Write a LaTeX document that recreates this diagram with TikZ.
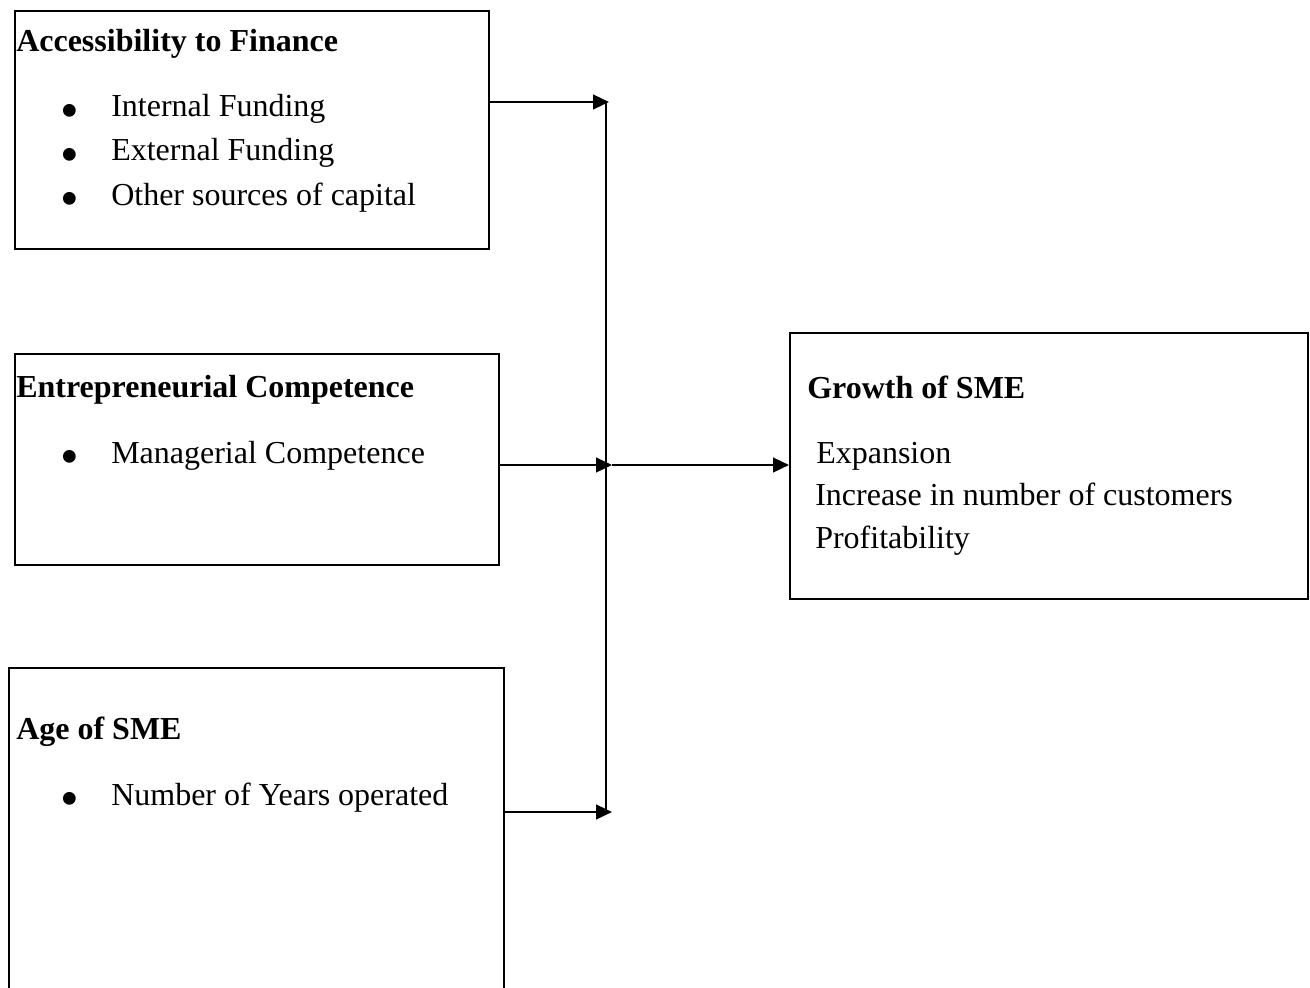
\documentclass[tikz,border=0pt]{standalone}
\usepackage{fontspec}
\setmainfont{Liberation Serif}
\usetikzlibrary{arrows.meta}
\newcommand{\bulletmark}{\smash{•}}
\begin{document}
\begin{tikzpicture}[x=0.75pt,y=-0.75pt,
  box/.style={draw=black,line width=1.6pt,anchor=north west,inner sep=0pt},
  txt/.style={anchor=base west,inner sep=0pt,font=\fontsize{24}{33}\selectfont},
  ttl/.style={txt,font=\fontsize{24}{33}\selectfont\bfseries},
  bul/.style={anchor=base,inner sep=0pt,font=\fontsize{40}{40}\selectfont},
  conn/.style={line width=1.8pt,-{Triangle[length=12pt,width=11pt]}},
  spine/.style={line width=0.8pt}]
\useasboundingbox (0,0) rectangle (1310,988);
\clip (0,0) rectangle (1310,988);
% boxes
\node[box,minimum width=474*0.75pt,minimum height=238*0.75pt] (b1) at (14,10) {};
\node[box,minimum width=484*0.75pt,minimum height=211*0.75pt] (b2) at (14,353) {};
\node[box,minimum width=495*0.75pt,minimum height=400*0.75pt] (b3) at (8,667) {};
\node[box,minimum width=518*0.75pt,minimum height=266*0.75pt] (b4) at (789,332) {};
% box 1 text
\node[ttl] (t1) at (16,52) {Accessibility to Finance};
\node[bul] (u11) at (70,129) {\bulletmark};
\node[txt] (i11) at (111,117) {Internal Funding};
\node[bul] (u12) at (70,173) {\bulletmark};
\node[txt] (i12) at (111,161) {External Funding};
\node[bul] (u13) at (70,217) {\bulletmark};
\node[txt] (i13) at (111,205) {Other sources of capital};
% box 2 text
\node[ttl] (t2) at (16,397) {Entrepreneurial Competence};
\node[bul] (u21) at (70,474) {\bulletmark};
\node[txt] (i21) at (111,463) {Managerial Competence};
% box 3 text
\node[ttl] (t3) at (16,739) {Age of SME};
\node[bul] (u31) at (70,816) {\bulletmark};
\node[txt] (i31) at (111,805) {Number of Years operated};
% box 4 text
\node[ttl] (t4) at (807,398) {Growth of SME};
\node[txt] (i41) at (816,463) {Expansion};
\node[txt] (i42) at (815,505) {Increase in number of customers};
\node[txt] (i43) at (815,548) {Profitability};
% junction coordinates
\coordinate (j1) at (609,102);
\coordinate (j2) at (612,465);
\coordinate (j3) at (612,812);
\coordinate (s1) at (606,102);
\coordinate (s2) at (606,812);
% connectors
\draw[spine] (s1) -- (s2);
\draw[conn] (b1.east |- j1) -- (j1);
\draw[conn] (b2.east |- j2) -- (j2);
\draw[conn] (j2) -- (b4.west |- j2);
\draw[conn] (b3.east |- j3) -- (j3);
\end{tikzpicture}
\end{document}
